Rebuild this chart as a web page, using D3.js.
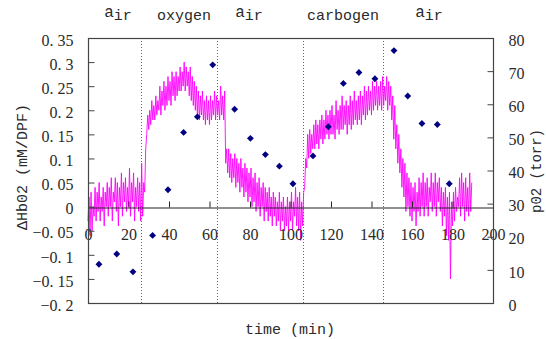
<!DOCTYPE html>
<html>
<head>
<meta charset="utf-8">
<script src="https://cdn.jsdelivr.net/npm/d3@7"></script>
<style>
html,body{margin:0;padding:0;background:#fff;}
svg{display:block;}
</style>
</head>
<body>
<svg id="chart" width="546" height="339"></svg>
<script>
// ---------- data ----------
const leftTicks = [-0.2,-0.15,-0.1,-0.05,0,0.05,0.1,0.15,0.2,0.25,0.3,0.35];
const leftTickLabels = ["\u22120. 2","\u22120. 15","\u22120. 1","\u22120. 05","0","0. 05","0. 1","0. 15","0. 2","0. 25","0. 3","0. 35"];
const rightTicks = [0,10,20,30,40,50,60,70,80];
const xTicks = [0,20,40,60,80,100,120,140,160,180,200];

const phaseBoundaries = [26.2, 63.7, 106, 145.8];
const phaseLabels = ["air","oxygen","air","carbogen","air"];
const phaseLabelTimes = [14.8, 47.4, 79.5, 125.9, 168.4];

// pO2 measurements (time in min, pO2 in torr)
const po2Time = [5.4,14.2,22.2,31.9,39.5,47.2,54.0,61.6,72.4,80.2,87.6,94.5,101.2,111.1,118.7,126.1,133.8,141.7,151.1,157.9,164.9,172.5,178.4];
const po2Value = [11.7,14.8,9.4,20.4,34.2,51.5,56.2,71.9,58.5,49.7,44.8,41.3,36.0,44.4,53.2,66.3,69.6,67.7,76.2,62.5,54.2,53.9,36.0];

// ΔHbO2 trace, one high/low reading per minute starting at 0 min
const traceHi = [
0.02,0.03,0.00,0.04,0.03,0.05,0.02,0.04,0.03,0.05,
0.04,0.06,0.03,0.06,0.05,0.04,0.07,0.05,0.06,0.04,
0.08,0.05,0.07,0.04,0.06,0.05,0.09,0.05,0.12,0.19,
0.20,0.22,0.21,0.23,0.22,0.25,0.24,0.26,0.25,0.27,
0.26,0.28,0.27,0.28,0.27,0.29,0.28,0.30,0.29,0.28,
0.29,0.27,0.26,0.25,0.24,0.23,0.24,0.22,0.23,0.22,
0.23,0.22,0.24,0.23,0.22,0.25,0.23,0.24,0.12,0.12,
0.11,0.10,0.11,0.10,0.09,0.10,0.08,0.09,0.08,0.07,
0.08,0.06,0.07,0.05,0.06,0.04,0.05,0.04,0.03,0.04,
0.02,0.03,0.02,0.01,0.03,0.01,0.02,0.00,0.02,0.01,
0.03,0.01,0.04,0.02,0.03,0.01,0.03,0.10,0.15,0.16,
0.15,0.17,0.18,0.17,0.18,0.19,0.18,0.20,0.19,0.20,
0.21,0.19,0.22,0.20,0.21,0.23,0.21,0.22,0.21,0.23,
0.22,0.24,0.22,0.23,0.24,0.23,0.25,0.24,0.25,0.24,
0.26,0.25,0.26,0.25,0.26,0.27,0.25,0.27,0.26,0.25,
0.23,0.21,0.17,0.15,0.12,0.10,0.09,0.07,0.06,0.05,
0.04,0.05,0.03,0.06,0.05,0.07,0.05,0.06,0.04,0.07,
0.05,0.07,0.05,0.06,0.04,0.03,0.04,0.02,0.03,0.01,
0.03,0.04,0.02,0.06,0.07,0.05,0.06,0.04,0.07,0.05
];
const traceLo = [
-0.03,-0.06,-0.05,-0.02,-0.03,-0.01,-0.03,-0.01,-0.04,0.00,
-0.02,0.00,-0.03,0.01,-0.01,-0.04,0.00,-0.02,0.01,-0.01,
0.00,-0.02,0.01,-0.03,0.00,-0.01,-0.03,-0.02,0.03,0.15,
0.16,0.17,0.18,0.18,0.19,0.20,0.19,0.21,0.20,0.21,
0.22,0.21,0.23,0.22,0.23,0.24,0.24,0.25,0.24,0.25,
0.23,0.22,0.21,0.20,0.19,0.18,0.19,0.18,0.17,0.18,
0.17,0.18,0.19,0.18,0.19,0.18,0.19,0.18,0.09,0.07,
0.06,0.05,0.06,0.04,0.05,0.03,0.04,0.02,0.03,0.01,
0.02,0.00,0.01,-0.01,0.00,-0.02,0.00,-0.03,-0.01,-0.03,
-0.02,-0.04,-0.02,-0.04,-0.03,-0.05,-0.03,-0.05,-0.04,-0.05,
-0.03,-0.05,-0.02,-0.04,-0.05,-0.07,-0.04,0.04,0.08,0.10,
0.11,0.12,0.12,0.13,0.12,0.14,0.13,0.14,0.15,0.14,
0.15,0.15,0.14,0.16,0.15,0.16,0.16,0.17,0.15,0.17,
0.16,0.17,0.18,0.17,0.18,0.17,0.19,0.18,0.19,0.20,
0.19,0.20,0.21,0.20,0.21,0.20,0.21,0.22,0.20,0.21,
0.18,0.14,0.12,0.09,0.07,0.04,0.02,-0.01,0.00,-0.02,
-0.03,-0.01,-0.04,-0.01,-0.02,0.00,-0.02,0.00,-0.02,0.01,
-0.01,0.00,-0.02,0.01,-0.01,-0.04,-0.02,-0.06,-0.07,-0.15,
-0.04,-0.03,-0.01,0.00,-0.02,0.00,-0.03,-0.01,-0.02,-0.01
];

// ---------- layout ----------
const svg = d3.select("#chart");
const L = 88, R = 493, T = 38, B = 303;
const x = d3.scaleLinear().domain([0,200]).range([L,R]);
const yL = d3.scaleLinear().domain([-0.2,0.35]).range([B,T]);
const yR = d3.scaleLinear().domain([0,80]).range([B,T]);

const numFont = "'Liberation Serif', 'DejaVu Serif', serif";
const txtFont = "'Liberation Mono', 'DejaVu Sans Mono', monospace";
const axisCol = "#444";
const textCol = "#2a2a2a";

// trace
const tracePts = [];
traceHi.forEach((h,i)=>{ tracePts.push([i, traceLo[i]]); tracePts.push([i+0.5, h]); });
svg.append("path")
  .datum(tracePts)
  .attr("fill","none")
  .attr("stroke","#ff00ff")
  .attr("stroke-width",0.9)
  .attr("d", d3.line().x(d=>x(d[0])).y(d=>yL(d[1])));

// phase boundaries (dotted)
svg.selectAll("line.phase").data(phaseBoundaries).join("line")
  .attr("class","phase")
  .attr("x1",d=>Math.round(x(d))+0.5).attr("x2",d=>Math.round(x(d))+0.5)
  .attr("y1",T).attr("y2",B)
  .attr("stroke","#666").attr("stroke-width",1).attr("stroke-dasharray","1,2");

// x axis at y = 0
const y0 = Math.round(yL(0))+0.5;
const xAxis = d3.axisBottom(x).tickValues(xTicks).tickSize(-6).tickPadding(21).tickFormat(d3.format("d"));
const gx = svg.append("g").attr("transform",`translate(0,${y0})`).call(xAxis);
gx.select(".domain").attr("stroke","#222");
gx.selectAll(".tick line").attr("stroke","#222");
gx.selectAll("text").attr("font-family",numFont).attr("font-size",16).attr("fill",textCol);

// left axis
const gl = svg.append("g").attr("transform",`translate(${L+0.5},0)`)
  .call(d3.axisLeft(yL).tickValues(leftTicks).tickSize(-6).tickPadding(15).tickFormat((d,i)=>leftTickLabels[i]));
gl.select(".domain").remove();
gl.selectAll(".tick line").attr("stroke",axisCol);
gl.selectAll("text").attr("font-family",numFont).attr("font-size",16).attr("fill",textCol).attr("dy","0.45em");

// right axis
const gr = svg.append("g").attr("transform",`translate(${R+0.5},0)`)
  .call(d3.axisRight(yR).tickValues(rightTicks).tickSize(-6).tickPadding(15).tickFormat(d3.format("d")));
gr.select(".domain").remove();
gr.selectAll(".tick line").attr("stroke",axisCol);
gr.selectAll("text").attr("font-family",numFont).attr("font-size",16).attr("fill",textCol).attr("dy","0.45em");

// frame
svg.append("rect").attr("x",L+0.5).attr("y",T+0.5).attr("width",R-L).attr("height",B-T)
  .attr("fill","none").attr("stroke",axisCol).attr("stroke-width",1.2);

// pO2 diamonds
svg.selectAll("path.po2").data(po2Time).join("path")
  .attr("class","po2")
  .attr("transform",(d,i)=>`translate(${x(d)},${yR(po2Value[i])})`)
  .attr("d", d3.symbol().type(d3.symbolDiamond2).size(30))
  .attr("fill","#000080");

// phase labels
const pl = svg.selectAll("text.phaselab").data(phaseLabels).join("text")
  .attr("class","phaselab")
  .attr("x",(d,i)=>x(phaseLabelTimes[i]))
  .attr("y",20)
  .attr("text-anchor","middle")
  .attr("font-family",txtFont).attr("font-size",15).attr("fill",textCol);
pl.each(function(d){
  const t = d3.select(this);
  if (d === "air") {
    t.append("tspan").attr("dy",-3).attr("font-size",16).text("a");
    t.append("tspan").attr("dy",3).text("ir");
  } else {
    t.text(d);
  }
});

// axis titles
svg.append("text").attr("x",290).attr("y",334).attr("text-anchor","middle")
  .attr("font-family",txtFont).attr("font-size",15).attr("fill",textCol).text("time (min)");
svg.append("text").attr("transform","translate(27,167) rotate(-90)").attr("text-anchor","middle")
  .attr("font-family",txtFont).attr("font-size",15).attr("fill",textCol).text("\u0394Hb02 (mM/DPF)");
svg.append("text").attr("transform","translate(541,171) rotate(-90)").attr("text-anchor","middle")
  .attr("font-family",txtFont).attr("font-size",14).attr("fill",textCol).text("p02 (torr)");
</script>
</body>
</html>
